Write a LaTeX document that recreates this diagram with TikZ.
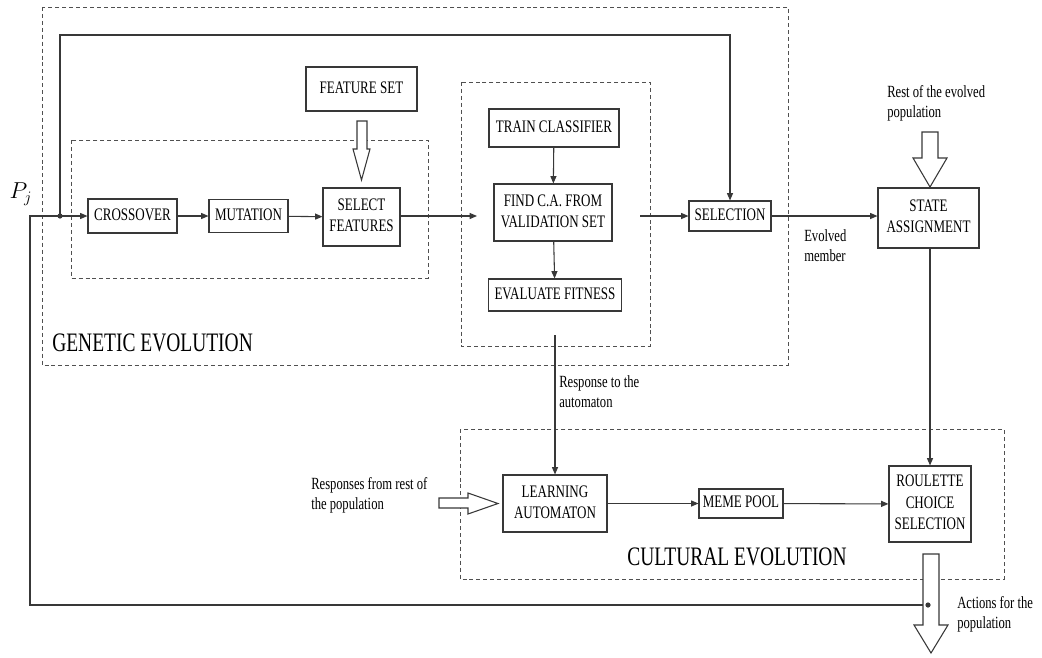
\documentclass[tikz,border=0pt]{standalone}
\usepackage{fontspec}
\usepackage{graphicx}
\setmainfont{Liberation Serif}
\usetikzlibrary{arrows.meta}
\newdimen\px \px=0.75pt
\newcommand\ctext[1]{\scalebox{0.74}[1]{\begin{tabular}{@{}c@{}}#1\end{tabular}}}
\newcommand\ltext[1]{\scalebox{0.74}[1]{\begin{tabular}{@{}l@{}}#1\end{tabular}}}
\newcommand\btext[1]{\scalebox{0.73}[1]{#1}}
\definecolor{ln}{HTML}{383838}
\definecolor{dl}{HTML}{505050}
\begin{document}
\begin{tikzpicture}[x=0.75pt,y=-0.75pt,
  box/.style={draw=ln,line width=0.8pt,inner sep=0pt,align=center,font=\fontsize{13.2}{16}\selectfont},
  grp/.style={draw=dl,dashed,line width=0.6pt,dash pattern=on 3pt off 2.2pt},
  con/.style={draw=ln,line width=0.8pt},
  arr/.style={con,-{Triangle[length=5.5pt,width=4.5pt]}},
  lbl/.style={inner sep=0pt,align=left,font=\fontsize{12.8}{15}\selectfont},
  big/.style={inner sep=0pt,anchor=west,font=\fontsize{20}{24}\selectfont},
  hollow/.style={draw=ln,line width=0.8pt,fill=white}]
\useasboundingbox (0,0) rectangle (1042,657);
% group boxes
\draw[grp] (42,7) rectangle (788,365);
\draw[grp] (71,140) rectangle (428,278);
\draw[grp] (461,82) rectangle (650,346);
\draw[grp] (460,429) rectangle (1004,579);
% nodes
\node[box,minimum width=89\px,minimum height=34\px] (cross) at (132.5,216) {\ctext{CROSSOVER}};
\node[box,minimum width=79\px,minimum height=33\px] (mut) at (248.5,216) {\ctext{MUTATION}};
\node[box,minimum width=77\px,minimum height=58\px] (sel) at (361.5,217) {\ctext{SELECT\\FEATURES}};
\node[box,minimum width=111\px,minimum height=44\px] (fset) at (361.5,89) {\ctext{FEATURE SET}};
\node[box,minimum width=130\px,minimum height=38\px] (train) at (554,128) {\ctext{TRAIN CLASSIFIER}};
\node[box,minimum width=118\px,minimum height=57\px] (find) at (553,212.5) {\ctext{FIND C.A. FROM\\VALIDATION SET}};
\node[box,minimum width=133\px,minimum height=32\px] (eval) at (555,295) {\ctext{EVALUATE FITNESS}};
\node[box,minimum width=82\px,minimum height=30\px] (selection) at (730,216) {\ctext{SELECTION}};
\node[box,minimum width=101\px,minimum height=60\px] (state) at (928.5,218) {\ctext{STATE\\ASSIGNMENT}};
\node[box,minimum width=104\px,minimum height=57\px] (learn) at (555,503.5) {\ctext{LEARNING\\AUTOMATON}};
\node[box,minimum width=84\px,minimum height=29\px] (meme) at (741,503.5) {\ctext{MEME POOL}};
\node[box,minimum width=82\px,minimum height=76\px] (roul) at (930,504) {\ctext{ROULETTE\\CHOICE\\SELECTION}};
% coordinates
\coordinate (in) at (30,216);
\coordinate (split) at (60,216);
\coordinate (topl) at (60,35);
\coordinate (topr) at (730,35);
\coordinate (valin) at (477,216);
\coordinate (valout) at (640,216);
\coordinate (resp) at (555,335);
\coordinate (act) at (928,605);
\coordinate (bl) at (30,605);
% connectors
\draw[arr] (act) -- (bl) -- (in) -- (cross.west);
\fill[ln] (split) circle (2.6);
\draw[arr] (split) -- (topl) -- (topr) -- (selection.north);
\draw[arr] (cross) -- (mut);
\draw[arr] (mut) -- (sel);
\draw[arr] (sel.east |- valin) -- (valin);
\draw[arr] (train) -- (find);
\draw[arr] (find) -- (eval);
\draw[arr] (valout) -- (selection.west);
\draw[arr] (selection.east) -- (state.west |- selection.east);
\draw[arr] (state.south -| roul.north) -- (roul.north);
\draw[arr] (resp) -- (learn.north);
\draw[arr] (learn) -- (meme);
\draw[arr] (meme) -- (roul);
% hollow arrows
\draw[hollow] (357,121) -- (367,121) -- (367,149) -- (370,149) -- (361.5,180) -- (353,149) -- (357,149) -- cycle;
\draw[hollow] (922,132) -- (938,132) -- (938,158) -- (947,158) -- (930,187) -- (913,158) -- (922,158) -- cycle;
\draw[hollow] (439,498) -- (468,498) -- (468,493) -- (498,503.5) -- (468,514) -- (468,508) -- (439,508) -- cycle;
\draw[hollow] (923,554) -- (939,554) -- (939,625) -- (948,625) -- (931,653) -- (914,625) -- (923,625) -- cycle;
\fill[ln] (act) circle (2.6);
% labels
\node[inner sep=0pt,font=\fontsize{17}{20}\selectfont] (pj) at (21,194) {$P_j$};
\node[lbl,anchor=west] (evm) at (804,247) {\ltext{Evolved\\member}};
\node[lbl,anchor=west] (rest) at (887,103) {\ltext{Rest of the evolved\\population}};
\node[lbl,anchor=west] (rta) at (559,393) {\ltext{Response to the\\automaton}};
\node[lbl,anchor=west] (rfr) at (311,495) {\ltext{Responses from rest of\\the population}};
\node[lbl,anchor=west] (afp) at (957,614) {\ltext{Actions for the\\population}};
\node[big] (ge) at (52,343) {\btext{GENETIC EVOLUTION}};
\node[big] (ce) at (627,557) {\btext{CULTURAL EVOLUTION}};
\end{tikzpicture}
\end{document}
